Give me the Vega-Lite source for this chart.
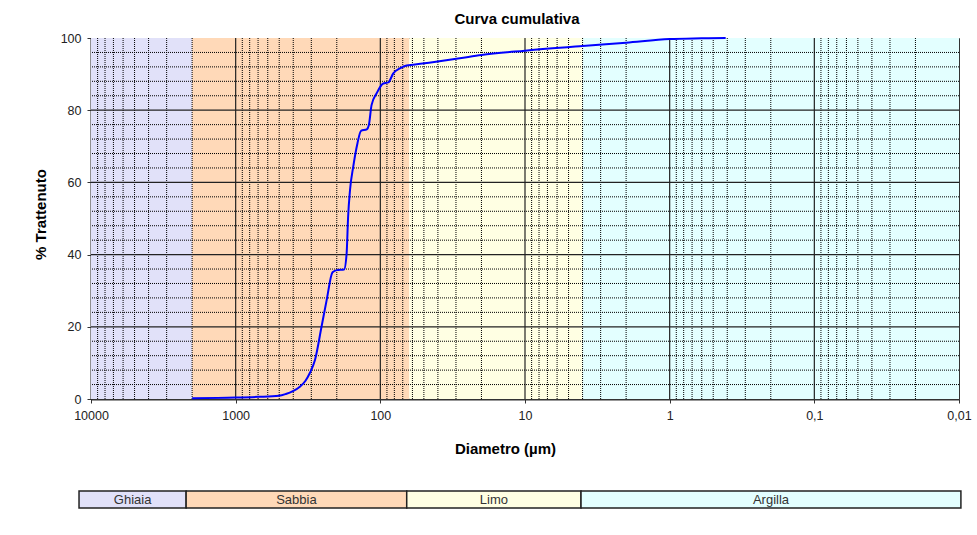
{
  "$schema": "https://vega.github.io/schema/vega-lite/v6.json",
  "width": 868,
  "height": 361,
  "autosize": {"type": "none"},
  "padding": {"left": 91, "top": 38, "right": 18, "bottom": 136},
  "background": "#ffffff",
  "config": {
    "font": "Liberation Sans",
    "view": {"stroke": "#333333", "strokeWidth": 1},
    "axis": {"zindex": 1}
  },
  "title": {
    "text": "Curva cumulativa",
    "fontSize": 15,
    "fontWeight": "bold",
    "color": "#000000",
    "anchor": "middle",
    "dx": -8,
    "offset": 5
  },
  "datasets": {
    "bands": [
      {"name": "Ghiaia", "d": 10000, "d2": 2000, "ld": 12100, "ld2": 2200},
      {"name": "Sabbia", "d": 2000, "d2": 63, "ld": 2200, "ld2": 65.7},
      {"name": "Limo", "d": 63, "d2": 4, "ld": 65.7, "ld2": 4.1},
      {"name": "Argilla", "d": 4, "d2": 0.01, "ld": 4.1, "ld2": 0.0097}
    ],
    "vminor": [
      {"d": 9000}, {"d": 8000}, {"d": 7000}, {"d": 6000}, {"d": 5000}, {"d": 4000}, {"d": 3000}, {"d": 2000},
      {"d": 900}, {"d": 800}, {"d": 700}, {"d": 600}, {"d": 500}, {"d": 400}, {"d": 300}, {"d": 200},
      {"d": 90}, {"d": 80}, {"d": 70}, {"d": 60}, {"d": 50}, {"d": 40}, {"d": 30}, {"d": 20},
      {"d": 9}, {"d": 8}, {"d": 7}, {"d": 6}, {"d": 5}, {"d": 4}, {"d": 3}, {"d": 2},
      {"d": 0.9}, {"d": 0.8}, {"d": 0.7}, {"d": 0.6}, {"d": 0.5}, {"d": 0.4}, {"d": 0.3}, {"d": 0.2},
      {"d": 0.09}, {"d": 0.08}, {"d": 0.07}, {"d": 0.06}, {"d": 0.05}, {"d": 0.04}, {"d": 0.03}, {"d": 0.02}
    ],
    "vmajor": [{"d": 1000}, {"d": 100}, {"d": 10}, {"d": 1}, {"d": 0.1}],
    "hminor": [
      {"p": 4}, {"p": 8}, {"p": 12}, {"p": 16}, {"p": 24}, {"p": 28}, {"p": 32}, {"p": 36},
      {"p": 44}, {"p": 48}, {"p": 52}, {"p": 56}, {"p": 64}, {"p": 68}, {"p": 72}, {"p": 76},
      {"p": 84}, {"p": 88}, {"p": 92}, {"p": 96}
    ],
    "hmajor": [{"p": 20}, {"p": 40}, {"p": 60}, {"p": 80}],
    "curve": [
      {"d": 2000, "p": 0.2},
      {"d": 1000, "p": 0.4},
      {"d": 700, "p": 0.6},
      {"d": 502, "p": 0.9},
      {"d": 450, "p": 1.4},
      {"d": 402, "p": 2.2},
      {"d": 360, "p": 3.4},
      {"d": 330, "p": 5.0},
      {"d": 307, "p": 7.2},
      {"d": 283, "p": 10.8},
      {"d": 255, "p": 20.0},
      {"d": 235, "p": 27.4},
      {"d": 214, "p": 35.1},
      {"d": 200, "p": 35.7},
      {"d": 178, "p": 35.9},
      {"d": 171, "p": 40.3},
      {"d": 167, "p": 50.5},
      {"d": 162, "p": 57.9},
      {"d": 154, "p": 64.3},
      {"d": 144, "p": 70.8},
      {"d": 136, "p": 74.3},
      {"d": 124, "p": 74.7},
      {"d": 120, "p": 75.9},
      {"d": 115, "p": 81.4},
      {"d": 106, "p": 84.7},
      {"d": 95.5, "p": 87.4},
      {"d": 88, "p": 87.7},
      {"d": 81.4, "p": 90.2},
      {"d": 73.2, "p": 91.6},
      {"d": 65.8, "p": 92.4},
      {"d": 59.3, "p": 92.6},
      {"d": 28.2, "p": 94.4},
      {"d": 20, "p": 95.3},
      {"d": 10, "p": 96.5},
      {"d": 4, "p": 97.8},
      {"d": 2, "p": 98.7},
      {"d": 1, "p": 99.7},
      {"d": 0.6, "p": 99.9},
      {"d": 0.41, "p": 100}
    ]
  },
  "layer": [
    {
      "data": {"name": "bands"},
      "mark": {"type": "rect"},
      "encoding": {
        "x": {
          "field": "d",
          "type": "quantitative",
          "scale": {"type": "log", "domain": [0.01, 10000], "reverse": true},
          "axis": {
            "title": "Diametro (µm)",
            "values": [10000, 1000, 100, 10, 1, 0.1, 0.01],
            "labelExpr": "replace(toString(datum.value), '.', ',')",
            "grid": false,
            "labelFontSize": 12.5,
            "labelColor": "#222222",
            "labelPadding": 6,
            "labelFlush": false,
            "labelOverlap": false,
            "tickSize": 4,
            "tickColor": "#333333",
            "domainColor": "#333333",
            "domainWidth": 2,
            "titleFontSize": 15,
            "titleFontWeight": "bold",
            "titleColor": "#000000",
            "titleX": 414,
            "titleY": 54,
            "titleBaseline": "alphabetic"
          }
        },
        "x2": {"field": "d2"},
        "color": {
          "field": "name",
          "type": "nominal",
          "scale": {
            "domain": ["Ghiaia", "Sabbia", "Limo", "Argilla"],
            "range": ["#E1E1F9", "#FFD9B8", "#FFFFE3", "#E3FFFF"]
          },
          "legend": null
        }
      }
    },
    {
      "data": {"name": "vminor"},
      "mark": {"type": "rule", "stroke": "#000000", "strokeWidth": 1, "strokeDash": [1, 1]},
      "encoding": {"x": {"field": "d", "type": "quantitative"}}
    },
    {
      "data": {"name": "vmajor"},
      "mark": {"type": "rule", "stroke": "#222222", "strokeWidth": 1.2},
      "encoding": {"x": {"field": "d", "type": "quantitative"}}
    },
    {
      "data": {"name": "hminor"},
      "mark": {"type": "rule", "stroke": "#000000", "strokeWidth": 1, "strokeDash": [1, 1]},
      "encoding": {
        "y": {
          "field": "p",
          "type": "quantitative",
          "scale": {"domain": [0, 100]},
          "axis": {
            "title": "% Trattenuto",
            "values": [0, 20, 40, 60, 80, 100],
            "grid": false,
            "labelFontSize": 12.5,
            "labelColor": "#222222",
            "labelPadding": 6,
            "tickSize": 4,
            "tickColor": "#333333",
            "domainColor": "#222222",
            "domainWidth": 2,
            "titleFontSize": 15,
            "titleFontWeight": "bold",
            "titleColor": "#000000",
            "titleX": -46,
            "titleY": 176,
            "titleBaseline": "alphabetic"
          }
        }
      }
    },
    {
      "data": {"name": "hmajor"},
      "mark": {"type": "rule", "stroke": "#222222", "strokeWidth": 1.2},
      "encoding": {"y": {"field": "p", "type": "quantitative"}}
    },
    {
      "data": {"name": "curve"},
      "mark": {"type": "line", "color": "#0000FF", "strokeWidth": 2, "interpolate": "monotone"},
      "encoding": {
        "x": {"field": "d", "type": "quantitative"},
        "y": {"field": "p", "type": "quantitative"},
        "order": {"field": "d", "sort": "descending"}
      }
    },
    {
      "data": {"name": "bands"},
      "mark": {"type": "rect", "stroke": "#222222", "strokeWidth": 1.5},
      "encoding": {
        "x": {"field": "ld", "type": "quantitative"},
        "x2": {"field": "ld2"},
        "y": {"datum": -25.5},
        "y2": {"datum": -30.2},
        "color": {"field": "name", "type": "nominal", "legend": null}
      }
    },
    {
      "data": {"name": "bands"},
      "transform": [{"calculate": "sqrt(datum.ld * datum.ld2)", "as": "lc"}],
      "mark": {"type": "text", "fontSize": 13, "color": "#333333", "baseline": "middle", "align": "center"},
      "encoding": {
        "x": {"field": "lc", "type": "quantitative"},
        "y": {"datum": -27.85},
        "text": {"field": "name"}
      }
    }
  ]
}
